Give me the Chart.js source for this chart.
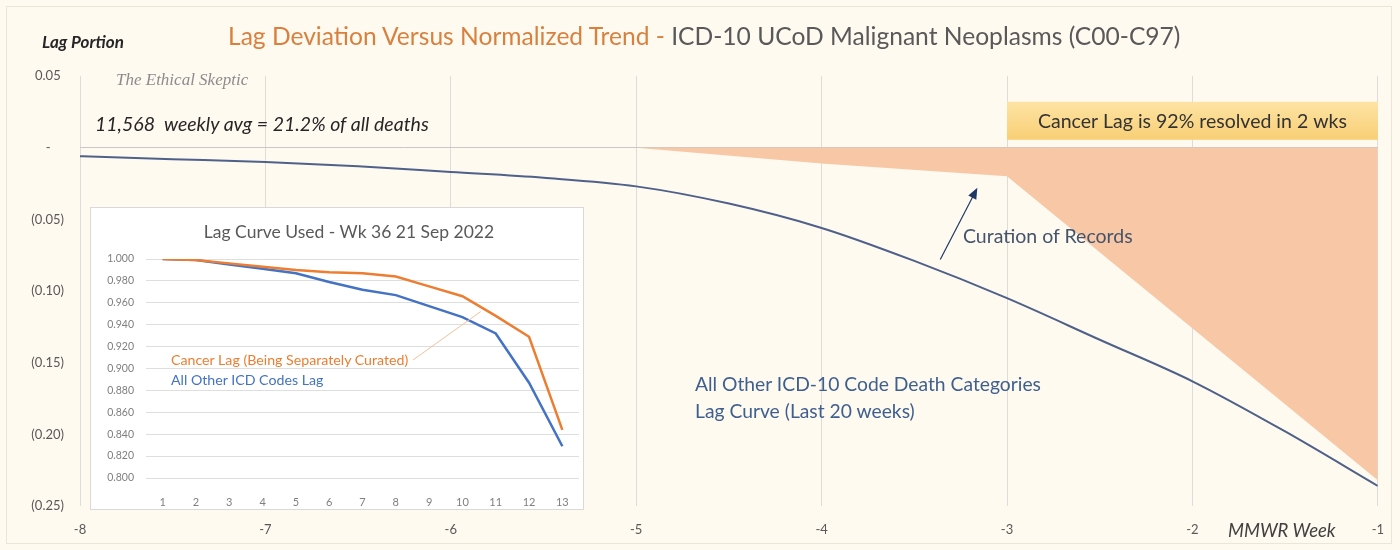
<!DOCTYPE html>
<html>
<head>
<meta charset="utf-8">
<script src="https://cdn.jsdelivr.net/npm/chart.js@4.4.1/dist/chart.umd.min.js"></script>
<style>
  html, body { margin:0; padding:0; background:#ffffff; }
  #wrap { position:relative; width:1400px; height:550px; overflow:hidden; background:#fefaf0; font-family:Lato, "Open Sans", sans-serif; }
  #frame { position:absolute; left:6px; top:6px; width:1386px; height:538px; border:1px solid #ece6d8; box-sizing:border-box; }
  #main { position:absolute; left:0; top:0; }
  #insetBox { position:absolute; left:90px; top:207px; width:494px; height:303px; background:#ffffff; border:1px solid #d9d9d9; box-sizing:border-box; }
  #inset { position:absolute; left:0; top:0; }
  .t { position:absolute; white-space:nowrap; line-height:1; }
</style>
</head>
<body>
<div id="wrap">
  <div id="frame"></div>
  <canvas id="main" width="1400" height="550"></canvas>
  <div class="t" style="left:228px; top:24px; font-size:24.6px; color:#595959;"><span style="color:#d9803e;">Lag Deviation Versus Normalized Trend -</span> ICD-10 UCoD Malignant Neoplasms (C00-C97)</div>
  <div class="t" style="left:42px; top:33px; font-size:17px; font-weight:bold; font-style:italic; color:#262626;">Lag Portion</div>
  <div class="t" style="left:116px; top:71px; font-size:17px; font-style:italic; font-family:'Liberation Serif', serif; color:#8c8c8c;">The Ethical Skeptic</div>
  <div class="t" style="left:95px; top:114px; font-size:19.5px; font-style:italic; color:#262626;">11,568&nbsp; weekly avg = 21.2% of all deaths</div>
  <div class="t" style="left:963px; top:226px; font-size:19.5px; color:#44546a;">Curation of Records</div>
  <div class="t" style="left:695px; top:370px; font-size:19.3px; color:#3f5f8f; line-height:27px;">All Other ICD-10 Code Death Categories<br>Lag Curve (Last 20 weeks)</div>
  <div class="t" style="left:1228px; top:521px; font-size:18.5px; font-style:italic; color:#404040;">MMWR Week</div>
  <div id="insetBox">
    <canvas id="inset" width="492" height="301"></canvas>
    <div class="t" style="left:12px; width:492px; text-align:center; top:15px; font-size:17.5px; color:#595959;">Lag Curve Used - Wk 36 21 Sep 2022</div>
    <div class="t" style="left:80px; top:145px; font-size:14.2px; color:#ed7d31;">Cancer Lag (Being Separately Curated)</div>
    <div class="t" style="left:80px; top:165px; font-size:14.2px; color:#4472c4;">All Other ICD Codes Lag</div>
  </div>
</div>
<script>
// ---------- Main chart data ----------
const weeks = [-8, -7.5, -7, -6.5, -6, -5.5, -5, -4.5, -4, -3.5, -3, -2.5, -2, -1.5, -1];
const otherLag = [-0.006, -0.008, -0.010, -0.013, -0.017, -0.021, -0.027, -0.039, -0.056, -0.079, -0.105, -0.134, -0.163, -0.198, -0.236];
const cancerWeeks = [-5, -4, -3, -2, -1];
const cancerLag = [0, -0.011, -0.020, -0.126, -0.232];
const yTicks = [0.05, 0, -0.05, -0.10, -0.15, -0.20, -0.25];

// ---------- Inset chart data ----------
const insetWeeks = ['1','2','3','4','5','6','7','8','9','10','11','12','13'];
const insetCancer = [1.000, 0.999, 0.996, 0.993, 0.990, 0.988, 0.987, 0.984, 0.975, 0.966, 0.948, 0.929, 0.844];
const insetOther  = [1.000, 0.999, 0.995, 0.991, 0.987, 0.979, 0.972, 0.967, 0.957, 0.947, 0.932, 0.887, 0.829];

// annotation anchors in data coordinates
const banner = { x0:-3, x1:-1, y0:0.032, y1:0.0055, text:'Cancer Lag is 92% resolved in 2 wks' };
const arrow = { from:[-3.36, -0.078], to:[-3.16, -0.028] };

const annot = {
  id:'annot',
  afterDatasetsDraw(chart){
    const {ctx, scales:{x, y}} = chart;
    const bx0 = x.getPixelForValue(banner.x0), bx1 = x.getPixelForValue(banner.x1);
    const by0 = y.getPixelForValue(banner.y0), by1 = y.getPixelForValue(banner.y1);
    const g = ctx.createLinearGradient(0, by0, 0, by1);
    g.addColorStop(0, '#fde3a4'); g.addColorStop(1, '#f9cf75');
    ctx.save();
    ctx.fillStyle = g;
    ctx.fillRect(bx0, by0, bx1-bx0, by1-by0);
    ctx.fillStyle = '#333333';
    ctx.font = '19.5px Lato, sans-serif';
    ctx.textAlign = 'center'; ctx.textBaseline = 'middle';
    ctx.fillText(banner.text, (bx0+bx1)/2, (by0+by1)/2 + 1);
    const ax0 = x.getPixelForValue(arrow.from[0]), ay0 = y.getPixelForValue(arrow.from[1]);
    const ax1 = x.getPixelForValue(arrow.to[0]), ay1 = y.getPixelForValue(arrow.to[1]);
    const ang = Math.atan2(ay1-ay0, ax1-ax0);
    ctx.strokeStyle = '#1f3864'; ctx.fillStyle = '#1f3864'; ctx.lineWidth = 1.2;
    ctx.beginPath(); ctx.moveTo(ax0, ay0);
    ctx.lineTo(ax1 - 8*Math.cos(ang), ay1 - 8*Math.sin(ang)); ctx.stroke();
    ctx.beginPath(); ctx.moveTo(ax1, ay1);
    ctx.lineTo(ax1 - 11*Math.cos(ang) + 4.5*Math.sin(ang), ay1 - 11*Math.sin(ang) - 4.5*Math.cos(ang));
    ctx.lineTo(ax1 - 11*Math.cos(ang) - 4.5*Math.sin(ang), ay1 - 11*Math.sin(ang) + 4.5*Math.cos(ang));
    ctx.closePath(); ctx.fill();
    ctx.restore();
  }
};

new Chart(document.getElementById('main'), {
  type:'line',
  data:{ datasets:[
    { label:'All Other ICD-10 Code Death Categories Lag', data: weeks.map((w,i)=>({x:w, y:otherLag[i]})),
      borderColor:'#4f6189', borderWidth:2, pointRadius:0, cubicInterpolationMode:'monotone', fill:false, order:1 },
    { label:'Cancer Lag', data: cancerWeeks.map((w,i)=>({x:w, y:cancerLag[i]})),
      borderWidth:0, borderColor:'rgba(0,0,0,0)', backgroundColor:'#f8c7a5', fill:'origin', pointRadius:0, tension:0, order:2 }
  ]},
  options:{
    responsive:false, animation:false, devicePixelRatio:1,
    layout:{ padding:{ left:0, right:22, top:76, bottom:0 } },
    plugins:{ legend:{display:false}, tooltip:{enabled:false}, title:{display:false} },
    scales:{
      x:{ type:'linear', min:-8, max:-1,
          ticks:{ stepSize:1, color:'#595959', font:{size:13, family:'Lato'}, padding:16 },
          grid:{ color:'#dcdcdc', drawTicks:false }, border:{display:false},
          afterFit(s){ s.height = 44; } },
      y:{ min:-0.25, max:0.05, afterBuildTicks(s){ s.ticks = yTicks.map(v=>({value:v})); },
          ticks:{ color:'#595959', font:{size:13, family:'Lato'}, padding:16,
                  callback(v){ if (Math.abs(v) < 1e-9) return '-    '; return v > 0 ? v.toFixed(2)+' ' : '('+Math.abs(v).toFixed(2)+')'; } },
          grid:{ color(c){ return (c.tick && Math.abs(c.tick.value) < 1e-9) ? '#c8c8c8' : 'rgba(0,0,0,0)'; }, drawTicks:false },
          border:{display:false},
          afterFit(s){ s.width = 80; } }
    }
  },
  plugins:[annot]
});

const leader = { fromPx:[322, 152], to:[10.55, 0.952] };
const insetAnnot = {
  id:'insetAnnot',
  afterDatasetsDraw(chart){
    const {ctx, scales:{x, y}} = chart;
    const tx = x.getPixelForValue(leader.to[0]-1), ty = y.getPixelForValue(leader.to[1]);
    ctx.save(); ctx.strokeStyle = '#f4c09a'; ctx.lineWidth = 1;
    ctx.beginPath(); ctx.moveTo(leader.fromPx[0], leader.fromPx[1]); ctx.lineTo(tx, ty); ctx.stroke();
    ctx.restore();
  }
};

new Chart(document.getElementById('inset'), {
  type:'line',
  data:{ labels: insetWeeks, datasets:[
    { label:'Cancer Lag (Being Separately Curated)', data: insetCancer, borderColor:'#ed7d31', borderWidth:2.5, pointRadius:0, tension:0 },
    { label:'All Other ICD Codes Lag', data: insetOther, borderColor:'#4472c4', borderWidth:2.5, pointRadius:0, tension:0 }
  ]},
  options:{
    responsive:false, animation:false, devicePixelRatio:1,
    layout:{ padding:{ left:0, right:4, top:51, bottom:0 } },
    plugins:{ legend:{display:false}, tooltip:{enabled:false} },
    scales:{
      x:{ offset:true, ticks:{ color:'#7f7f7f', font:{size:11, family:'Lato'}, padding:10 },
          grid:{ display:false }, border:{display:false}, afterFit(s){ s.height = 31; } },
      y:{ min:0.8, max:1.0,
          ticks:{ stepSize:0.02, color:'#7f7f7f', font:{size:10.5, family:'Lato'}, padding:12, callback(v){ return v.toFixed(3); } },
          grid:{ color:'#dedede', drawTicks:false }, border:{display:false},
          afterFit(s){ s.width = 55; } }
    }
  },
  plugins:[insetAnnot]
});
</script>
</body>
</html>
